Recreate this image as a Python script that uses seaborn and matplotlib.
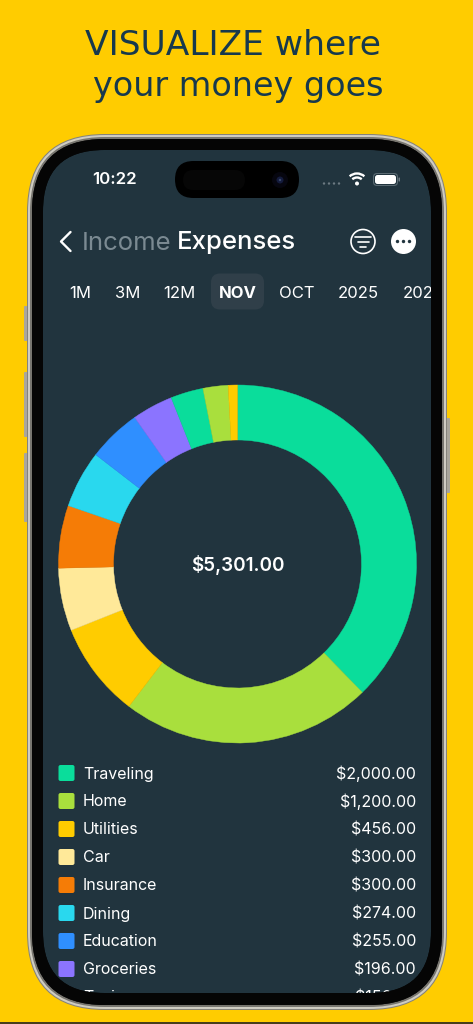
# plot.py
import matplotlib
matplotlib.use('Agg')
import matplotlib.pyplot as plt
import seaborn as sns
from matplotlib.patches import FancyBboxPatch, Circle, Arc, PathPatch
from matplotlib.path import Path
from matplotlib.transforms import Bbox, TransformedBbox

# Data
categories = ['Traveling', 'Home', 'Utilities', 'Car', 'Insurance', 'Dining',
              'Education', 'Groceries', 'Taxi', 'Misc', 'Other']
values = [2000, 1200, 456, 300, 300, 274, 255, 196, 156, 120, 44]
value_labels = ['$2,000.00', '$1,200.00', '$456.00', '$300.00', '$300.00',
                '$274.00', '$255.00', '$196.00', '$156.00']
slice_colors = ['#0ADD9B', '#A9DF3D', '#FFCC00', '#FFE999', '#F57C06', '#29D8EE',
                '#2F8FFF', '#8B74FF', '#0ADD9B', '#A9DF3D', '#FFCC00']
periods = ['1M', '3M', '12M', 'NOV', 'OCT', '2025', '2024']
period_x = [80.5, 127.5, 179.5, 237.5, 297, 358, 424]

YELLOW = '#FFCC00'
SCREEN = '#21343E'
APP_FONT = ['Inter', 'DejaVu Sans']

sns.set_theme(style='white')
plt.rcParams['font.family'] = APP_FONT

fig = plt.figure(figsize=(4.73, 10.24), dpi=100, facecolor=YELLOW)
ax = fig.add_axes([0, 0, 1, 1])
ax.set_xlim(0, 473)
ax.set_ylim(1024, 0)
ax.axis('off')


def rbox(x0, y0, x1, y1, r, color, z=1, **kw):
    p = FancyBboxPatch((x0, y0), x1 - x0, y1 - y0,
                       boxstyle=f'round,pad=0,rounding_size={r}',
                       fc=color, ec='none', zorder=z, **kw)
    ax.add_patch(p)
    return p


# bottom edge line of the screenshot
ax.plot([0, 473], [1023, 1023], color='#222222', lw=1.2, zorder=1)

# title
ax.text(232.5, 45.5, 'VISUALIZE where', ha='center', va='center', fontsize=24.8,
        color='#17394D', family='DejaVu Sans')
ax.text(238, 86.5, 'your money goes', ha='center', va='center', fontsize=24,
        color='#17394D', family='DejaVu Sans')

# side buttons
for x0, x1, y0, y1 in [(24, 28, 306, 341), (24, 28, 372, 437), (24, 28, 453, 522),
                       (446, 450, 418, 493)]:
    rbox(x0, y0, x1, y1, 1, '#A9A69C', z=1)

# phone body
rbox(27, 134, 447, 1010, 78, '#85837C', z=2)
rbox(28, 135, 446, 1009, 77, '#CFCCC2', z=3)
rbox(30, 137, 444, 1007, 75, '#77756F', z=4)
bezel = rbox(32, 139, 442, 1005, 73, '#050505', z=4)
screen = rbox(43, 150, 431, 993, 61, SCREEN, z=5)

# status bar
ax.text(114, 180, '10:22', ha='center', va='center', fontsize=12.2, color='white',
        weight='semibold', zorder=7)
rbox(175, 161, 299, 198, 18.5, '#000000', z=6)
rbox(183, 170, 245, 190, 10, '#060606', z=7)
ax.add_patch(Circle((280, 180), 8, fc='#06060F', ec='none', zorder=7))
ax.add_patch(Circle((280, 180), 3.5, fc='#141B3C', ec='none', zorder=8))
ax.add_patch(Circle((280, 180), 1.2, fc='#3A4A70', ec='none', zorder=9))
for x in [324, 329, 334, 339]:
    ax.add_patch(Circle((x, 183.5), 1.2, fc='#6C7A82', ec='none', zorder=7))
for rad in [11, 7]:
    ax.add_patch(Arc((357, 184.5), rad * 2, rad * 2, theta1=228, theta2=312,
                     color='white', lw=1.7, zorder=7))
ax.add_patch(Circle((357, 183.5), 2, fc='white', ec='none', zorder=7))
rbox(373, 173, 398, 186, 4, '#5A6A72', z=7)
rbox(374, 174, 397, 185, 3.4, SCREEN, z=8)
rbox(375, 175, 396, 184, 2.6, 'white', z=9)
rbox(398.5, 177.5, 400, 181.5, 0.6, '#6C7A82', z=7)

# header
ax.plot([70.5, 61, 70.5], [232, 241.5, 251], color='white', lw=1.7, zorder=7,
        solid_capstyle='round', solid_joinstyle='round')
ax.text(82, 243, 'Income', ha='left', va='center', fontsize=18.5, color='#7B8A92', zorder=7)
ax.text(176.5, 243, 'Expenses', ha='left', va='center', fontsize=18.5, color='white',
        weight='medium', zorder=7)
ax.add_patch(Circle((363, 241.5), 12, fc='none', ec='white', lw=1.2, zorder=7))
for half, y in [(8, 236.5), (5.5, 241.5), (3, 246.5)]:
    ax.plot([363 - half, 363 + half], [y, y], color='white', lw=1.2, zorder=7)
ax.add_patch(Circle((403.5, 241.5), 12.5, fc='white', ec='none', zorder=7))
for x in [397.5, 403.5, 409.5]:
    ax.add_patch(Circle((x, 241.5), 1.7, fc=SCREEN, ec='none', zorder=8))

# period tabs, last one runs off the screen
rbox(211, 273.5, 264, 309.5, 9, '#303F49', z=6)
screen_box = TransformedBbox(Bbox([[43, 150], [431, 993]]), ax.transData)
for name, x in zip(periods, period_x):
    t = ax.text(x, 293, name, ha='center', va='center', fontsize=12, color='white',
                weight='bold' if name == 'NOV' else 'normal', zorder=7)
    t.set_clip_on(True)
    t.set_clip_box(screen_box)

# donut
cx, cy, r = 237.5, 564, 179
pie_ax = fig.add_axes([(cx - r) / 473, 1 - (cy + r) / 1024, 2 * r / 473, 2 * r / 1024],
                      zorder=5)
wedges, _ = pie_ax.pie(values, colors=sns.color_palette(slice_colors), startangle=90,
                       counterclock=False, radius=1, wedgeprops={'width': 55 / r})
pie_ax.set_xlim(-1, 1)
pie_ax.set_ylim(-1, 1)
pie_ax.set_axis_off()
pie_ax.patch.set_alpha(0)
for w in wedges:
    w.set_clip_on(False)
    w.set_edgecolor(w.get_facecolor())
    w.set_linewidth(0.3)

# overlay for centre text + list, above donut axes
top = fig.add_axes([0, 0, 1, 1], zorder=6)
top.set_xlim(0, 473)
top.set_ylim(1024, 0)
top.axis('off')
top.patch.set_alpha(0)
top.text(cx + 0.5, 565, '$5,301.00', ha='center', va='center', fontsize=13.6, color='white',
         weight='semibold')

# legend list, the last row is cut by the bottom of the screen
for i, label in enumerate(value_labels):
    y = 773 + 28 * i
    sw = FancyBboxPatch((58.5, y - 8), 16, 16, boxstyle='round,pad=0,rounding_size=2',
                        fc=slice_colors[i], ec='none', zorder=3)
    top.add_patch(sw)
    t1 = top.text(83, y + 1, categories[i], ha='left', va='center', fontsize=11.5,
                  color='white', zorder=3)
    t2 = top.text(416, y + 1, label, ha='right', va='center', fontsize=11.5,
                  color='white', zorder=3)
    for artist in (sw, t1, t2):
        artist.set_clip_on(True)
        artist.set_clip_box(screen_box)

# agg ignores clip paths on text, so the screen corners are masked by a bezel ring on top
outer = bezel.get_path().to_polygons()[0]
inner = screen.get_path().to_polygons()[0][::-1]
ring = Path.make_compound_path(Path(outer, closed=True), Path(inner, closed=True))
top.add_patch(PathPatch(ring, fc='#050505', ec='none', zorder=5))

fig.savefig('out.png', dpi=100, facecolor=YELLOW)
